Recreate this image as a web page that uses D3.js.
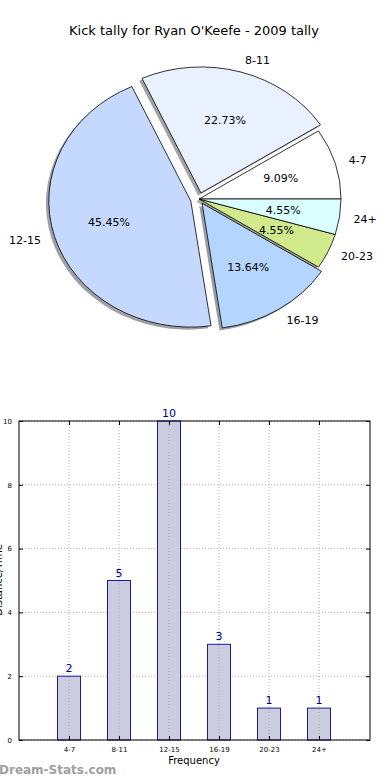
<!DOCTYPE html>
<html>
<head>
<meta charset="utf-8">
<script src="https://cdn.jsdelivr.net/npm/d3@7"></script>
<style>
body { margin:0; background:#fff; }
svg { display:block; font-family:"DejaVu Sans", sans-serif; }
</style>
</head>
<body>
<div id="vis"></div>
<script>
// data
var categories = ["4-7", "8-11", "12-15", "16-19", "20-23", "24+"];
var kicks = [2, 5, 10, 3, 1, 1];
var sliceColors = ["#ffffff", "#e9f0fe", "#c5d8fe", "#b4d5fe", "#d0ea8c", "#d9ffff"];
var explode = [0, 0.05, 0.06, 0.04, 0, 0];
var yTicks = [0, 2, 4, 6, 8, 10];
var title = "Kick tally for Ryan O'Keefe - 2009 tally";

var W = 390, H = 780;
var svg = d3.select("#vis").append("svg")
  .attr("width", W).attr("height", H);

svg.append("text")
  .attr("x", 194).attr("y", 35)
  .attr("text-anchor", "middle")
  .style("font-size", "13px")
  .text(title);

// ---- pie (matplotlib style, elliptical because of axes aspect) ----
var cx = 199, cy = 199, ry = 126, rx = 142;
var sx = rx / ry;
var total = d3.sum(kicks);

// counter clockwise from east, like matplotlib
var pie = d3.pie().sort(null).value(function(d){ return d; })
  .startAngle(Math.PI / 2).endAngle(Math.PI / 2 - 2 * Math.PI);
var arcs = pie(kicks);
var arc = d3.arc().innerRadius(0).outerRadius(ry);

function mid(d) { return (d.startAngle + d.endAngle) / 2; }
// d3 angle -> screen offset on the ellipse
function pos(a, k) {
  return [Math.sin(a) * rx * k, -Math.cos(a) * ry * k];
}

var pieG = svg.append("g").attr("transform", "translate(" + cx + "," + cy + ")");

// shadows
pieG.selectAll("path.shadow")
  .data(arcs).enter().append("path")
  .attr("class", "shadow")
  .attr("transform", function(d, i){
    var o = pos(mid(d), explode[i]);
    return "translate(" + (o[0] - 0.02 * rx) + "," + (o[1] + 0.02 * ry) + ") scale(" + sx + ",1)";
  })
  .attr("d", arc)
  .attr("fill", function(d, i){
    var c = d3.rgb(sliceColors[i]);
    return d3.rgb(c.r * 0.3, c.g * 0.3, c.b * 0.3);
  })
  .attr("opacity", 0.5);

pieG.selectAll("path.slice")
  .data(arcs).enter().append("path")
  .attr("class", "slice")
  .attr("transform", function(d, i){
    var o = pos(mid(d), explode[i]);
    return "translate(" + o[0] + "," + o[1] + ") scale(" + sx + ",1)";
  })
  .attr("d", arc)
  .attr("fill", function(d, i){ return sliceColors[i]; })
  .attr("stroke", "#000")
  .attr("stroke-width", 0.8)
  .attr("vector-effect", "non-scaling-stroke");

// category labels
pieG.selectAll("text.lab")
  .data(arcs).enter().append("text")
  .attr("class", "lab")
  .attr("x", function(d, i){ var o = pos(mid(d), explode[i]), p = pos(mid(d), 1.1); return o[0] + p[0]; })
  .attr("y", function(d, i){ var o = pos(mid(d), explode[i]), p = pos(mid(d), 1.1); return o[1] + p[1]; })
  .attr("dy", "0.35em")
  .attr("text-anchor", function(d){ return Math.sin(mid(d)) > 0 ? "start" : "end"; })
  .style("font-size", "11px")
  .text(function(d, i){ return categories[i]; });

// percentages
pieG.selectAll("text.pct")
  .data(arcs).enter().append("text")
  .attr("class", "pct")
  .attr("x", function(d, i){ var o = pos(mid(d), explode[i]), p = pos(mid(d), 0.6); return o[0] + p[0]; })
  .attr("y", function(d, i){ var o = pos(mid(d), explode[i]), p = pos(mid(d), 0.6); return o[1] + p[1]; })
  .attr("dy", "0.35em")
  .attr("text-anchor", "middle")
  .style("font-size", "11px")
  .text(function(d){ return (d.value / total * 100).toFixed(2) + "%"; });

// ---- bar chart ----
var bLeft = 19, bRight = 370, bTop = 421, bBottom = 740;

var x = d3.scaleLinear().domain([-1, 6.02]).range([bLeft, bRight]);
var y = d3.scaleLinear().domain([0, 10]).range([bBottom, bTop]);
var bw = x(0.46) - x(0);

var barG = svg.append("g");

// grid
barG.selectAll("line.gx")
  .data(categories).enter().append("line")
  .attr("x1", function(d, i){ return x(i); })
  .attr("x2", function(d, i){ return x(i); })
  .attr("y1", bTop).attr("y2", bBottom)
  .attr("stroke", "#b0b0b0").attr("stroke-dasharray", "1,2");
barG.selectAll("line.gy")
  .data(yTicks).enter().append("line")
  .attr("x1", bLeft).attr("x2", bRight)
  .attr("y1", function(d){ return y(d); })
  .attr("y2", function(d){ return y(d); })
  .attr("stroke", "#b0b0b0").attr("stroke-dasharray", "1,2");

barG.selectAll("rect.bar")
  .data(kicks).enter().append("rect")
  .attr("class", "bar")
  .attr("x", function(d, i){ return x(i) - bw / 2; })
  .attr("y", function(d){ return y(d); })
  .attr("width", bw)
  .attr("height", function(d){ return bBottom - y(d); })
  .attr("fill", "#ccccdf")
  .attr("stroke", "#1a1a9a").attr("stroke-width", 1);

// grid shows through bars a little
barG.selectAll("line.gx2")
  .data(categories).enter().append("line")
  .attr("x1", function(d, i){ return x(i); })
  .attr("x2", function(d, i){ return x(i); })
  .attr("y1", function(d, i){ return y(kicks[i]) + 1; }).attr("y2", bBottom)
  .attr("stroke", "#a8a8b8").attr("stroke-dasharray", "1,2");

barG.selectAll("text.val")
  .data(kicks).enter().append("text")
  .attr("x", function(d, i){ return x(i); })
  .attr("y", function(d){ return y(d) - 4; })
  .attr("text-anchor", "middle")
  .style("font-size", "11px")
  .style("fill", "#00008b")
  .text(function(d){ return d; });

// frame
barG.append("rect")
  .attr("x", bLeft).attr("y", bTop)
  .attr("width", bRight - bLeft).attr("height", bBottom - bTop)
  .attr("fill", "none").attr("stroke", "#000").attr("stroke-width", 1);

// axes
var xAxis = d3.axisBottom(x).tickValues(d3.range(categories.length))
  .tickFormat(function(i){ return categories[i]; })
  .tickSizeInner(-4).tickSizeOuter(0).tickPadding(7);
var gx = svg.append("g").attr("transform", "translate(0," + bBottom + ")").call(xAxis);
gx.select(".domain").remove();
gx.selectAll("text").style("font-size", "7px").style("font-family", "DejaVu Sans");

var yAxis = d3.axisLeft(y).tickValues(yTicks)
  .tickSizeInner(-4).tickSizeOuter(0).tickPadding(7);
var gy = svg.append("g").attr("transform", "translate(" + bLeft + ",0)").call(yAxis);
gy.select(".domain").remove();
gy.selectAll("text").style("font-size", "7px").style("font-family", "DejaVu Sans");

// right-side and top ticks
svg.append("g").attr("transform", "translate(" + bRight + ",0)")
  .call(d3.axisRight(y).tickValues(yTicks).tickSizeInner(-4).tickSizeOuter(0).tickFormat(""))
  .select(".domain").remove();
svg.append("g").attr("transform", "translate(0," + bTop + ")")
  .call(d3.axisTop(x).tickValues(d3.range(categories.length)).tickSizeInner(-4).tickSizeOuter(0).tickFormat(""))
  .select(".domain").remove();

svg.append("text")
  .attr("x", 194).attr("y", 764)
  .attr("text-anchor", "middle")
  .style("font-size", "10px")
  .text("Frequency");

svg.append("text")
  .attr("transform", "translate(2,580) rotate(-90)")
  .attr("text-anchor", "middle")
  .style("font-size", "10px")
  .text("Distance/Time");

svg.append("text")
  .attr("x", -1).attr("y", 774)
  .style("font-size", "12px")
  .style("font-weight", "bold")
  .style("fill", "#a0a0a0")
  .text("Dream-Stats.com");
</script>
</body>
</html>
